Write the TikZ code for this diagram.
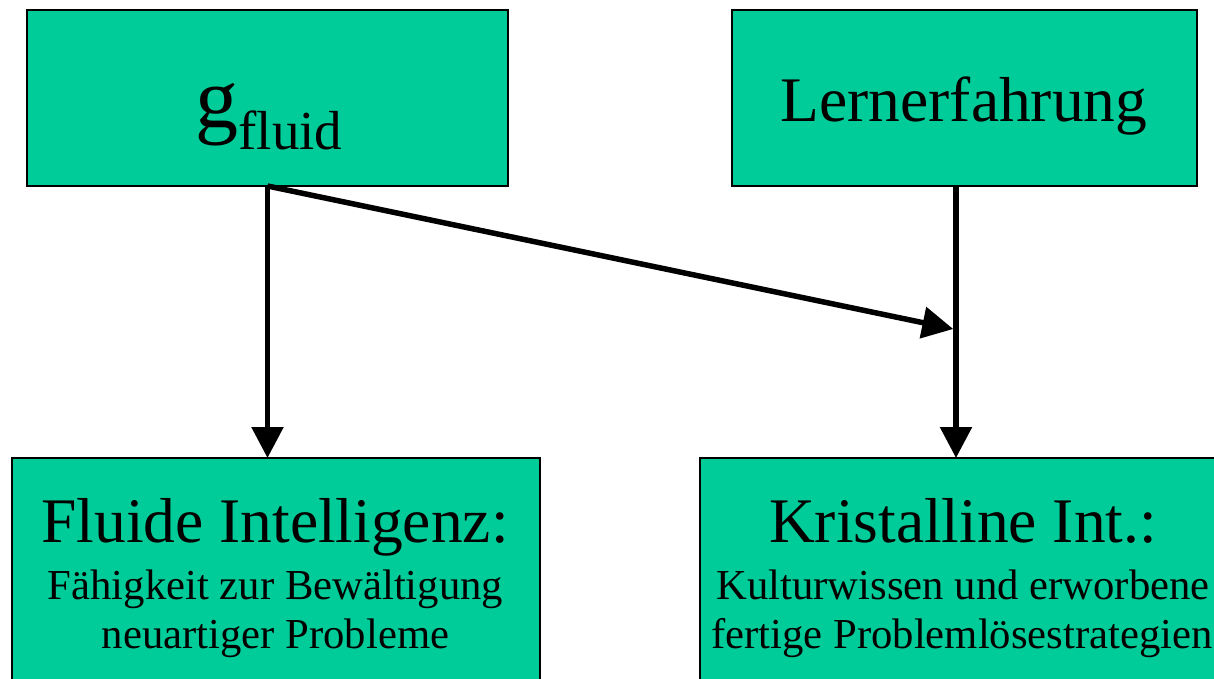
\documentclass[tikz,border=0pt]{standalone}
\usepackage{fontspec}
\setmainfont{Liberation Serif}
\usetikzlibrary{arrows.meta}
\definecolor{boxgreen}{HTML}{00CC99}
\begin{document}
\begin{tikzpicture}[x=1pt,y=-1pt,
  box/.style={draw=black, line width=1.5pt, fill=boxgreen, inner sep=0pt, outer sep=0pt, rectangle},
  big/.style={anchor=base, inner sep=0pt, font=\fontsize{63.5}{63.5}\selectfont},
  small/.style={anchor=base, inner sep=0pt, font=\fontsize{42.7}{42.7}\selectfont},
  conn/.style={line width=5.5pt, -{Triangle[length=31pt,width=31pt]}}]
\useasboundingbox (0,0) rectangle (1214,679);
\clip (0,0) rectangle (1214,679);
% boxes
\node[box, minimum width=481pt, minimum height=176pt] (gbox) at (267.5,98) {};
\node[box, minimum width=465pt, minimum height=176pt] (lbox) at (964.5,98) {};
\node[box, minimum width=528pt, minimum height=262pt] (fbox) at (276,589) {};
\node[box, minimum width=526pt, minimum height=262pt] (kbox) at (963,589) {};
% texts
\node[anchor=base, inner sep=0pt, font=\fontsize{86}{86}\selectfont] (gtxt) at (269,128) {g\raisebox{-22pt}{\fontsize{55}{55}\selectfont fluid}};
\node[big] (ltxt) at (964,122) {Lernerfahrung};
\node[big] (ftxt) at (275,542) {Fluide Intelligenz:};
\node[small] (ftxt2) at (275.5,599) {Fähigkeit zur Bewältigung};
\node[small] (ftxt3) at (275.5,648) {neuartiger Probleme};
\node[big] (ktxt) at (963,542) {Kristalline Int.:};
\node[small] (ktxt2) at (963,599) {Kulturwissen und erworbene};
\node[small] (ktxt3) at (962,648) {fertige Problemlösestrategien};
% connectors
\coordinate (lout) at ([xshift=-8.5pt]lbox.south);
\coordinate (join) at (953.25,329);
\draw[conn] (gbox.south) -- (gbox.south |- fbox.north);
\draw[conn] (lout) -- (lout |- kbox.north);
\draw[conn] (gbox.south) -- (join);
\end{tikzpicture}
\end{document}
